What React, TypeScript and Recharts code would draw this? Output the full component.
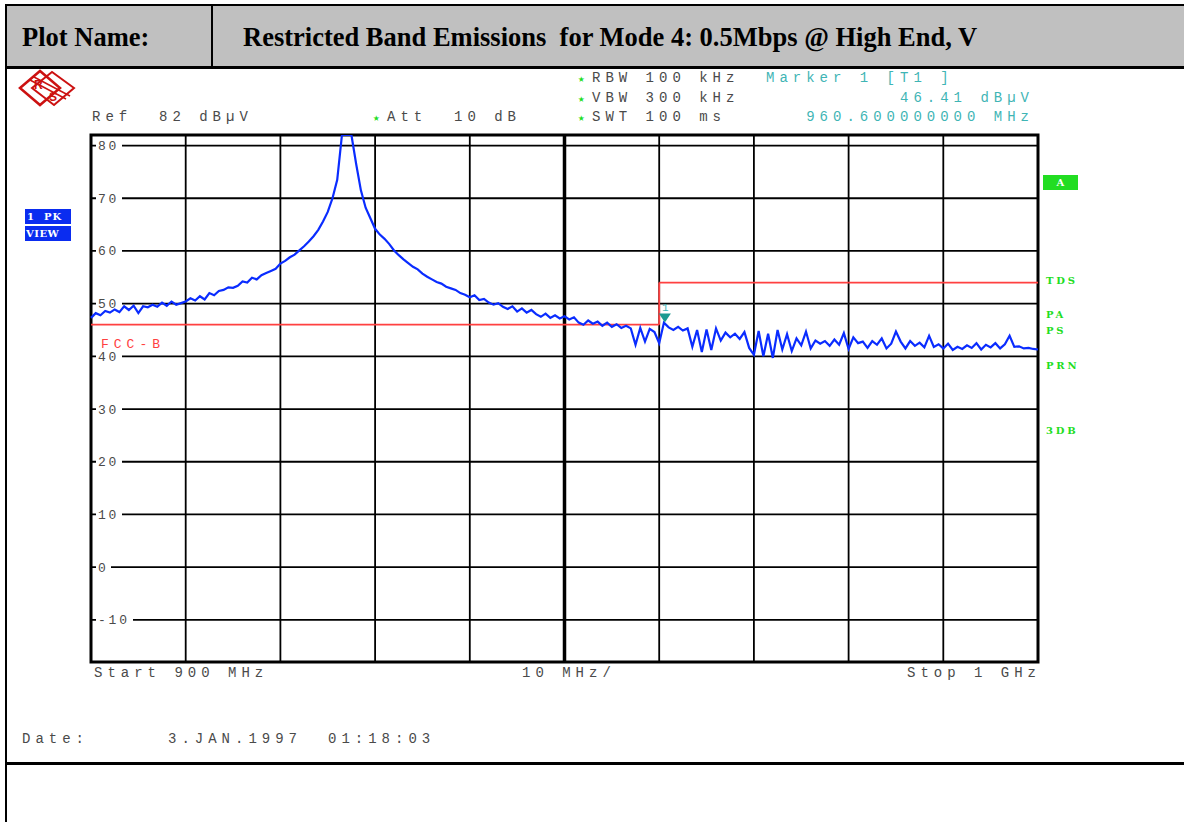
import React from "react";
import {
  LineChart,
  Line,
  XAxis,
  YAxis,
  ReferenceLine,
  ReferenceArea,
  ReferenceDot,
} from "recharts";

// Sweep: 900 MHz .. 1000 MHz, one reading every 0.5 MHz (dBµV)
const START_MHZ = 900;
const STEP_MHZ = 0.5;
const level900 = [47.3, 48.2, 47.8, 48.6, 48.3, 48.9, 48.4, 49.5, 48.8, 49.6, 48.2, 49.5, 49.3, 49.8, 49.4, 50.2, 49.6, 50.4, 49.8, 50.1];
const level910 = [50.4, 51.0, 50.6, 51.4, 50.8, 52.0, 51.6, 52.4, 52.6, 53.1, 53.0, 53.4, 54.2, 54.0, 54.9, 54.6, 55.4, 55.8, 56.2, 56.6];
const level920 = [57.6, 58.1, 58.8, 59.3, 60.1, 60.9, 61.8, 62.8, 64.0, 65.6, 67.4, 70.0, 73.5, 82, 82, 82, 76.5, 71.5, 68.2, 66.2];
const level930 = [64.2, 63.1, 62.3, 61.3, 60.1, 59.2, 58.4, 57.7, 57.0, 56.5, 55.7, 55.1, 54.6, 54.1, 53.8, 53.2, 52.9, 52.6, 52.0, 51.7];
const level940 = [51.2, 51.6, 50.7, 50.9, 50.2, 49.8, 50.1, 49.4, 49.0, 49.5, 48.5, 49.1, 48.3, 48.8, 48.0, 47.5, 48.1, 47.3, 47.8, 47.2];
const level950 = [47.6, 47.0, 47.4, 46.4, 46.0, 46.8, 46.2, 46.6, 45.8, 46.4, 45.6, 46.1, 45.4, 45.8, 45.3, 42.2, 45.4, 42.8, 45.2, 44.6];
const level960 = [42.5, 46.4, 45.5, 45.0, 45.6, 44.9, 45.3, 41.8, 45.0, 40.8, 45.1, 41.2, 45.3, 43.0, 44.5, 43.6, 44.3, 43.3, 44.6, 41.6];
const level970 = [40.3, 44.8, 40.0, 44.3, 39.7, 45.0, 41.3, 44.2, 41.0, 43.4, 42.1, 44.7, 41.5, 43.0, 42.4, 42.9, 42.0, 43.2, 42.2, 44.4];
const level980 = [41.4, 43.6, 42.5, 42.8, 41.6, 42.9, 42.2, 43.4, 41.5, 42.4, 44.7, 42.8, 41.5, 42.9, 42.0, 42.6, 41.7, 43.9, 41.8, 42.3];
const level990 = [41.5, 42.4, 41.2, 41.8, 41.4, 42.1, 41.6, 42.5, 41.3, 42.2, 41.7, 42.5, 41.5, 42.3, 43.9, 41.8, 41.9, 41.5, 41.6, 41.4, 41.3];

// FCC-B limit line
const limitFreq = [900, 960, 960, 1000];
const limitLevel = [46, 46, 54, 54];

// Marker 1
const markerFreq = 960.6;
const markerLevel = 46.41;

const xTicks = [900, 910, 920, 930, 940, 950, 960, 970, 980, 990, 1000];
const yTicks = [-10, 0, 10, 20, 30, 40, 50, 60, 70, 80];
const Y_MIN = -18;
const Y_MAX = 82;

const allLevels = [
  ...level900, ...level910, ...level920, ...level930, ...level940,
  ...level950, ...level960, ...level970, ...level980, ...level990,
];
const traceData = allLevels.map((v, i) => ({ f: START_MHZ + i * STEP_MHZ, v }));

const MONO = "'Liberation Mono', 'DejaVu Sans Mono', monospace";
const GRAY = "#4a4a4a";
const TEAL = "#3fb5b5";
const GREEN = "#22dd22";
const RED = "#ff4040";
const BLUE = "#0a2cff";

const YLabel = (props: any) => {
  const { viewBox, value } = props;
  if (!viewBox) return null;
  const x = viewBox.x;
  const y = viewBox.y;
  const label = String(value);
  const w = label.length * 11 + 4;
  return (
    <g>
      <rect x={x + 5} y={y - 4} width={w} height={8} fill="#fff" />
      <text
        x={x + 7}
        y={y}
        dy={4.5}
        fill={GRAY}
        fontFamily={MONO}
        fontSize={13}
        letterSpacing={2.8}
      >
        {label}
      </text>
    </g>
  );
};

const MarkerShape = (props: any) => {
  const { cx, cy } = props;
  return (
    <g>
      <polygon points={`${cx - 6},${cy - 9} ${cx + 6},${cy - 9} ${cx},${cy}`} fill="#1a9a90" />
      <text x={cx - 3} y={cy - 12} fill={TEAL} fontFamily={MONO} fontSize={11}>
        1
      </text>
    </g>
  );
};

const Txt = ({ x, y, children, color = GRAY, right = false, size = 14, lh = 18 }: any) => (
  <div
    style={{
      position: "absolute",
      top: y - lh / 2,
      ...(right ? { right: 1184 - x } : { left: x }),
      fontFamily: MONO,
      fontSize: size,
      letterSpacing: 5,
      color,
      whiteSpace: "pre",
      lineHeight: `${lh}px`,
    }}
  >
    {children}
  </div>
);

const Star = () => (
  <span style={{ color: GREEN, fontSize: 11, letterSpacing: 0, display: "inline-block", width: 14 }}>★</span>
);

const GreenLbl = ({ y, children }: any) => (
  <div
    style={{
      position: "absolute",
      left: 1046,
      top: y - 6,
      fontFamily: "'DejaVu Serif', serif",
      fontWeight: "bold",
      fontSize: 10,
      letterSpacing: 2.8,
      color: GREEN,
      lineHeight: "12px",
    }}
  >
    {children}
  </div>
);

const boxStyle: React.CSSProperties = {
  position: "absolute",
  left: 25,
  width: 46,
  height: 15,
  background: "#0a2cf0",
  color: "#fff",
  fontFamily: "'DejaVu Serif', serif",
  fontWeight: "bold",
  fontSize: 10,
  lineHeight: "15px",
  whiteSpace: "pre",
  boxSizing: "border-box",
};

export default function App() {
  return (
    <div
      style={{
        position: "absolute",
        left: 0,
        top: 0,
        width: 1184,
        height: 822,
        background: "#fff",
        overflow: "hidden",
      }}
    >
      {/* table frame */}
      <div style={{ position: "absolute", left: 5, top: 5, width: 1179, height: 62, background: "#c0c0c0" }} />
      <div style={{ position: "absolute", left: 5, top: 4, width: 1179, height: 2, background: "#000" }} />
      <div style={{ position: "absolute", left: 5, top: 66, width: 1179, height: 3, background: "#000" }} />
      <div style={{ position: "absolute", left: 5, top: 4, width: 2, height: 818, background: "#000" }} />
      <div style={{ position: "absolute", left: 211, top: 4, width: 2, height: 63, background: "#000" }} />
      <div style={{ position: "absolute", left: 5, top: 762, width: 1179, height: 3, background: "#000" }} />
      <div
        style={{
          position: "absolute",
          left: 22,
          top: 21,
          fontFamily: "'Liberation Serif', 'Times New Roman', serif",
          fontWeight: "bold",
          fontSize: 26.5,
          lineHeight: "32px",
          whiteSpace: "pre",
        }}
      >
        Plot Name:
      </div>
      <div
        style={{
          position: "absolute",
          left: 243,
          top: 21,
          fontFamily: "'Liberation Serif', 'Times New Roman', serif",
          fontWeight: "bold",
          fontSize: 26.5,
          lineHeight: "32px",
          whiteSpace: "pre",
        }}
      >
        Restricted Band Emissions  for Mode 4: 0.5Mbps @ High End, V
      </div>

      {/* R&S logo */}
      <svg style={{ position: "absolute", left: 16, top: 68 }} width={64} height={42}>
        <polygon points="4,20 24,3 44,20 24,37" fill="none" stroke="#cc1111" strokeWidth={2.5} />
        <polygon points="16,20 36,4 58,20 38,37" fill="none" stroke="#cc1111" strokeWidth={2} />
        <line x1={14} y1={12} x2={50} y2={31} stroke="#cc1111" strokeWidth={1.5} />
        <line x1={18} y1={9} x2={54} y2={28} stroke="#cc1111" strokeWidth={1.5} />
        <text x={18} y={21} fontSize={12} fontWeight="bold" fill="#cc1111" fontFamily="'Liberation Sans', sans-serif">R</text>
        <text x={33} y={33} fontSize={12} fontWeight="bold" fill="#cc1111" fontFamily="'Liberation Sans', sans-serif">S</text>
      </svg>

      {/* header annotations */}
      <Txt x={578} y={78}><Star />RBW 100 kHz</Txt>
      <Txt x={578} y={98}><Star />VBW 300 kHz</Txt>
      <Txt x={578} y={117}><Star />SWT 100 ms</Txt>
      <Txt x={766} y={78} color={TEAL}>Marker 1 [T1 ]</Txt>
      <Txt x={1034} y={98} color={TEAL} right>46.41 dBµV</Txt>
      <Txt x={1034} y={117} color={TEAL} right>960.600000000 MHz</Txt>
      <Txt x={92} y={117}>Ref  82 dBµV</Txt>
      <Txt x={373} y={117}><Star />Att  10 dB</Txt>

      {/* left side boxes */}
      <div style={{ ...boxStyle, top: 209, paddingLeft: 2, letterSpacing: 1 }}>1  PK</div>
      <div style={{ ...boxStyle, top: 226, paddingLeft: 1, letterSpacing: 0.5 }}>VIEW</div>

      {/* right side labels */}
      <div
        style={{
          position: "absolute", left: 1043, top: 175, width: 35, height: 15, background: GREEN,
          color: "#fff", fontFamily: "'DejaVu Serif', serif", fontWeight: "bold", fontSize: 10,
          lineHeight: "15px", textAlign: "center",
        }}
      >
        A
      </div>
      <GreenLbl y={281}>TDS</GreenLbl>
      <GreenLbl y={315}>PA</GreenLbl>
      <GreenLbl y={331}>PS</GreenLbl>
      <GreenLbl y={366}>PRN</GreenLbl>
      <GreenLbl y={431}>3DB</GreenLbl>

      {/* chart */}
      <div style={{ position: "absolute", left: 81, top: 125 }}>
        <LineChart
          width={967}
          height={547}
          data={traceData}
          margin={{ top: 10, right: 10, bottom: 10, left: 10 }}
        >
          <XAxis dataKey="f" type="number" domain={[900, 1000]} ticks={xTicks} hide />
          <YAxis type="number" domain={[Y_MIN, Y_MAX]} ticks={yTicks} hide allowDataOverflow />
          {xTicks.map((t) => (
            <ReferenceLine key={"gx" + t} x={t} stroke="#000" strokeWidth={t === 950 ? 3.5 : 1.8} />
          ))}
          {yTicks.map((t) => (
            <ReferenceLine
              key={"gy" + t}
              y={t}
              stroke="#000"
              strokeWidth={1.8}
              label={<YLabel value={t} />}
            />
          ))}
          <ReferenceArea x1={900} x2={1000} y1={Y_MIN} y2={Y_MAX} fill="none" stroke="#000" strokeWidth={3} />
          {limitFreq.slice(0, -1).map((f, i) => (
            <ReferenceLine
              key={"lim" + i}
              segment={[
                { x: f, y: limitLevel[i] },
                { x: limitFreq[i + 1], y: limitLevel[i + 1] },
              ]}
              stroke={RED}
              strokeWidth={1.8}
            />
          ))}
          <Line
            dataKey="v"
            type="linear"
            stroke={BLUE}
            strokeWidth={2.2}
            dot={false}
            isAnimationActive={false}
          />
          <ReferenceDot x={markerFreq} y={markerLevel} shape={<MarkerShape />} />
        </LineChart>
      </div>

      <Txt x={101} y={344} color={RED} size={13} lh={11}>FCC-B</Txt>

      {/* bottom annotations */}
      <Txt x={94} y={673}>Start 900 MHz</Txt>
      <Txt x={522} y={673}>10 MHz/</Txt>
      <Txt x={1041} y={673} right>Stop 1 GHz</Txt>
      <Txt x={22} y={739}>Date:</Txt>
      <Txt x={168} y={739}>3.JAN.1997</Txt>
      <Txt x={328} y={739}>01:18:03</Txt>
    </div>
  );
}
